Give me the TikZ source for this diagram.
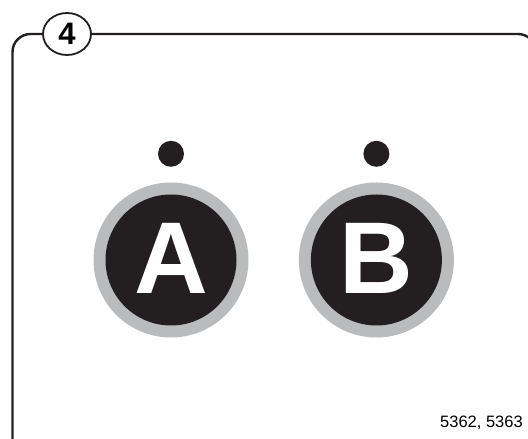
\documentclass[tikz,border=0pt]{standalone}
\usepackage{fontspec}
\setmainfont{Liberation Sans}
\usetikzlibrary{positioning,shapes.geometric}
\definecolor{keyBlack}{HTML}{231F20}
\definecolor{keyGray}{HTML}{B9BBBD}
\tikzset{
  keyring/.style={circle, fill=keyGray, minimum size=155pt, inner sep=0pt},
  keycap/.style={circle, fill=keyBlack, minimum size=131pt, inner sep=0pt,
                 text=white, font=\fontsize{102}{102}\selectfont\bfseries},
  led/.style={circle, fill=keyBlack, minimum size=26pt, inner sep=0pt},
  stepnum/.style={ellipse, draw=keyBlack, line width=1.8pt, fill=white,
                  minimum width=48pt, minimum height=42pt, inner sep=0pt,
                  font=\fontsize{31}{31}\selectfont\bfseries},
  panel/.style={draw=keyBlack, line width=2.4pt, rounded corners=18pt},
  partno/.style={font=\fontsize{16.5}{16.5}\selectfont, inner sep=0pt},
}

\begin{document}
\begin{tikzpicture}[x=1pt,y=1pt]
  \useasboundingbox (0,0) rectangle (528,439);
  \draw[panel] (12.5,-8) -- (12.5,405) -- (536,405) -- (536,-8);
  \node[stepnum] (num) at (67,405) {4};
  % the two keys
  \node[keyring] (ringA) at (171,179) {};
  \node[keycap] (keyA) at (ringA) {\raisebox{4pt}{A}};
  \node[keyring, right=50pt of ringA] (ringB) {};
  \node[keycap] (keyB) at (ringB) {\raisebox{4pt}{B}};
  \node[led, above=93pt of ringA.center] (ledA) {};
  \node[led, above=93pt of ringB.center] (ledB) {};
  \node[partno, anchor=base east] (part) at (523,11) {5362, 5363};
\end{tikzpicture}
\end{document}
